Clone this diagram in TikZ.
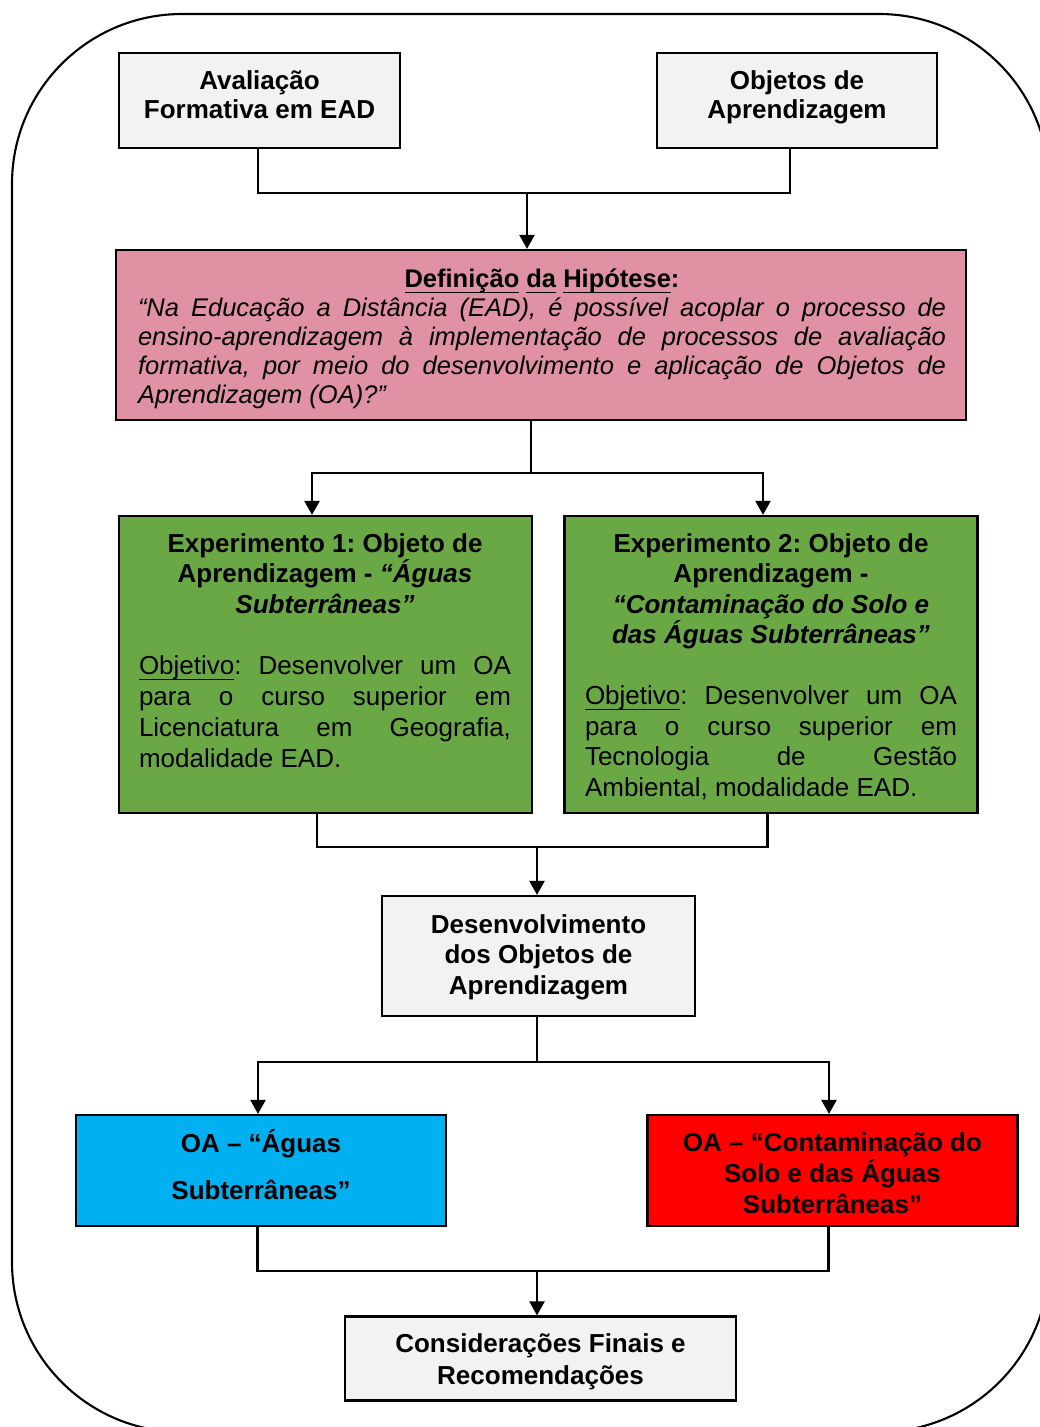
\documentclass[tikz,border=0pt]{standalone}
\usepackage{fontspec}
\setmainfont{Liberation Sans}
\usetikzlibrary{arrows.meta}
\frenchspacing
\newcommand\ulw[1]{\underline{\raisebox{0pt}[\height][3pt]{#1}}}
\newcommand\tightlines{\lineskiplimit=-50pt\relax}
\definecolor{boxgray}{RGB}{242,242,242}
\definecolor{hyppink}{RGB}{224,145,163}
\definecolor{expgreen}{RGB}{106,168,70}
\definecolor{oablue}{RGB}{0,176,240}
\definecolor{oared}{RGB}{255,0,0}
\begin{document}
\begin{tikzpicture}[x=1pt,y=-1pt,
  box/.style={draw, line width=2.2pt, inner sep=0pt},
  lbl/.style={inner sep=0pt, anchor=north, align=center, font=\bfseries\fontsize{26}{29}\selectfont},
  para/.style={inner sep=0pt, anchor=north, align=justify},
  conn/.style={line width=2.2pt},
  arr/.style={conn, -{Triangle[width=15pt,length=14pt]}}]

\useasboundingbox (0,0) rectangle (1040,1427);
\draw[line width=2.1pt, rounded corners=170pt] (12,14) rectangle (1049,1432);

% boxes
\node[box, fill=boxgray, minimum width=281, minimum height=95] (aval) at (259.5,100.5) {};
\node[box, fill=boxgray, minimum width=280, minimum height=95] (obj) at (797,100.5) {};
\node[box, fill=hyppink, minimum width=850, minimum height=170] (hip) at (541,335) {};
\node[box, fill=expgreen, minimum width=413, minimum height=297] (exp1) at (325.5,664.5) {};
\node[box, fill=expgreen, minimum width=413, minimum height=297] (exp2) at (771,664.5) {};
\node[box, fill=boxgray, minimum width=313, minimum height=120] (dev) at (538.5,956) {};
\node[box, fill=oablue, minimum width=370, minimum height=111] (oa1) at (261,1170.5) {};
\node[box, fill=oared, minimum width=370, minimum height=111] (oa2) at (832.5,1170.5) {};
\node[box, fill=boxgray, minimum width=391, minimum height=84] (cons) at (540.5,1358.5) {};

% texts
\node[lbl] (avalt) at (259.5,69) {\strut Avaliação\\Formativa em EAD};
\node[lbl] (objt) at (797,69) {\strut Objetos de\\Aprendizagem};

\node[para, text width=808, font=\fontsize{25.5}{29}\selectfont] (hipt) at (542,267.2)
{\tightlines{\centering\bfseries\strut\ulw{Definição} \ulw{da} \ulw{Hipótese}:\par}\noindent\itshape
“Na Educação a Distância (EAD), é possível acoplar o processo de\linebreak
ensino-aprendizagem à implementação de processos de avaliação\linebreak
formativa, por meio do desenvolvimento e aplicação de Objetos de\linebreak
Aprendizagem (OA)?”};

\node[para, text width=372, font=\fontsize{26}{30.7}\selectfont] (exp1t) at (325,530.5)
{\tightlines{\centering\bfseries\strut Experimento 1: Objeto de\\
Aprendizagem - \textit{“Águas\\ Subterrâneas”}\par}\vspace{30.7pt}\noindent
\ulw{Objetivo}: Desenvolver um OA\linebreak
para o curso superior em\linebreak
Licenciatura em Geografia,\linebreak
modalidade EAD.};

\node[para, text width=372, font=\fontsize{26}{30.5}\selectfont] (exp2t) at (771,530.6)
{\tightlines{\centering\bfseries\strut Experimento 2: Objeto de\\
Aprendizagem -\\ \textit{“Contaminação do Solo e\\ das Águas Subterrâneas”}\par}\vspace{30.5pt}\noindent
\ulw{Objetivo}: Desenvolver um OA\linebreak
para o curso superior em\linebreak
Tecnologia de Gestão\linebreak
Ambiental, modalidade EAD.};

\node[lbl, font=\bfseries\fontsize{26}{30.5}\selectfont] (devt) at (538.5,911.6) {\strut Desenvolvimento\\dos Objetos de\\Aprendizagem};
\node[lbl, font=\bfseries\fontsize{26}{30}\selectfont] (oa1t) at (261,1129) {\strut OA – “Águas\\[17pt]Subterrâneas”};
\node[lbl, font=\bfseries\fontsize{26}{30.5}\selectfont] (oa2t) at (832.5,1130) {\strut OA – “Contaminação do\\[-2pt]Solo e das Águas\\Subterrâneas”};
\node[lbl, font=\bfseries\fontsize{26}{32}\selectfont] (const) at (540.5,1329.6) {\strut Considerações Finais e\\Recomendações};

% connectors
\coordinate (j1) at (527,193);
\draw[conn] ([xshift=-1.5pt]aval.south) |- (j1) -| ([xshift=-7pt]obj.south);
\draw[arr] (j1) -- (hip.north -| j1);

\coordinate (j2) at (531,473);
\draw[conn] (hip.south -| j2) -- (j2);
\draw[arr] (j2) -| ([xshift=-13.5pt]exp1.north);
\draw[arr] (j2) -| ([xshift=-8pt]exp2.north);

\coordinate (j3) at (537,847);
\draw[conn] ([xshift=-8.5pt]exp1.south) |- (j3) -| ([xshift=-3.5pt]exp2.south);
\draw[arr] (j3) -- (dev.north -| j3);

\coordinate (j4) at (537,1062);
\draw[conn] (dev.south -| j4) -- (j4);
\draw[arr] (j4) -| ([xshift=-3pt]oa1.north);
\draw[arr] (j4) -| ([xshift=-3.5pt]oa2.north);

\coordinate (j5) at (537,1271);
\draw[conn] ([xshift=-3.5pt]oa1.south) |- (j5) -| ([xshift=-4pt]oa2.south);
\draw[arr] (j5) -- (cons.north -| j5);
\end{tikzpicture}
\end{document}
